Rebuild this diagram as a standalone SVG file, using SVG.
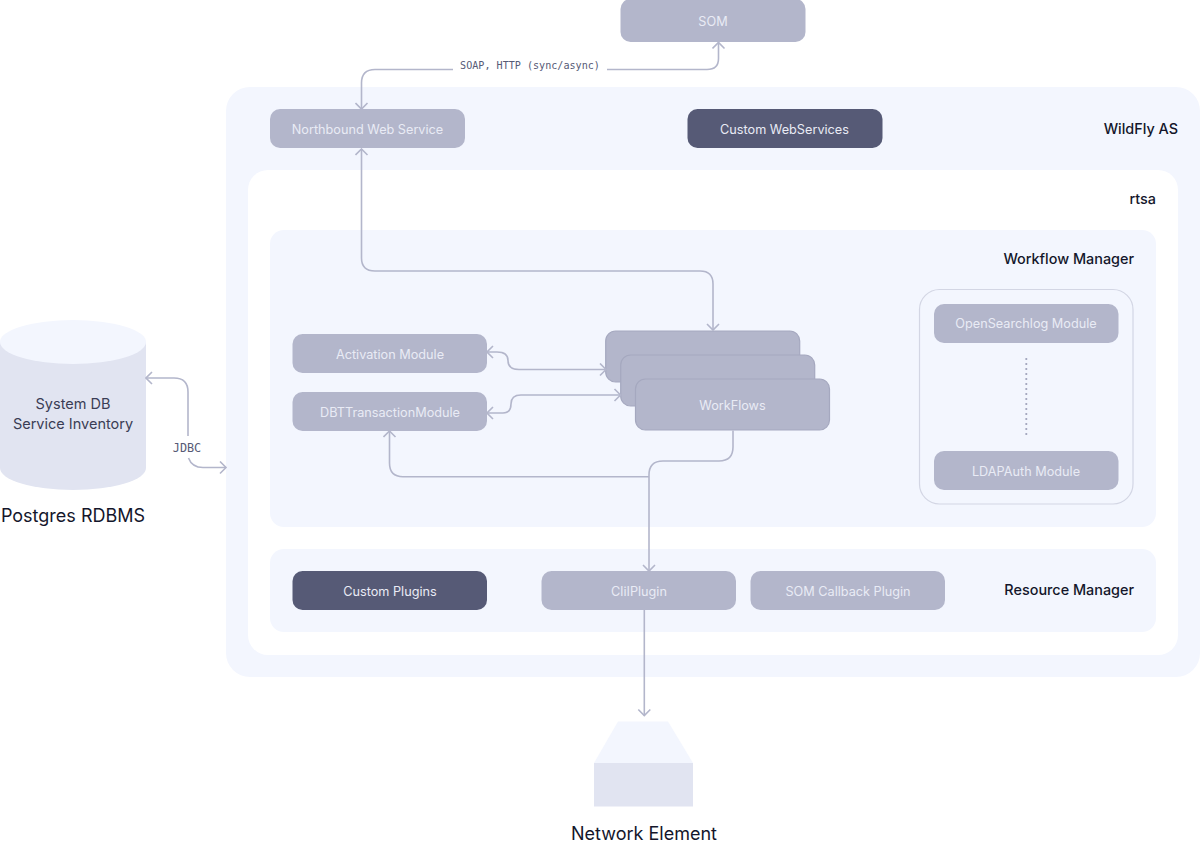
<svg xmlns="http://www.w3.org/2000/svg" width="1200" height="845" viewBox="0 0 1200 845">
<style>
text{font-family:"Inter","Noto Sans",sans-serif;text-anchor:middle}
.n{fill:#b3b6cb}
.d{fill:#565a76}
.s{stroke:#a5a8bf;stroke-width:1.2}
.t{font-size:12.7px;fill:#e9ebf5}
.h{font-size:14.4px;font-weight:500;fill:#14162b;text-anchor:end}
.c{fill:none;stroke:#b3b6cb;stroke-width:1.6}
.l{font-family:"DejaVu Sans Mono","Liberation Mono",monospace;font-size:10.1px;fill:#565a76}
.j{font-family:"DejaVu Sans Mono","Liberation Mono",monospace;font-size:11.8px;fill:#565a76}
.b{font-size:18px;fill:#14162b}
.m{font-size:14.5px;fill:#3a3d55}
</style>
<defs>
<marker id="a" markerUnits="userSpaceOnUse" viewBox="0 0 14 14" refX="12.5" refY="7" markerWidth="14" markerHeight="14" orient="auto-start-reverse"><path d="M6.5 1L12.5 7L6.5 13" fill="none" stroke="#b3b6cb" stroke-width="1.6"/></marker>
</defs>
<g id="wildfly"><rect x="226" y="87" width="974" height="590" rx="24" fill="#f3f6fe"/><text class="h" x="1178" y="134">WildFly AS</text></g>
<g id="rtsa"><rect x="248" y="170" width="930" height="485" rx="20" fill="#fff"/><text class="h" x="1156" y="204">rtsa</text></g>
<g id="workflow-manager"><rect x="270" y="230" width="886" height="297" rx="14" fill="#f3f6fe"/><text class="h" x="1134" y="264">Workflow Manager</text></g>
<g id="resource-manager"><rect x="270" y="549" width="886" height="83" rx="14" fill="#f3f6fe"/><text class="h" x="1134" y="595">Resource Manager</text></g>
<g id="module-box"><rect x="919.500" y="289.500" width="213.500" height="214.500" rx="20" fill="none" stroke="#d3d6e4" stroke-width="1.200"/><path d="M1026.300 358V436" stroke="#a5a8bf" stroke-width="1.800" stroke-dasharray="2 3"/></g>
<g id="som"><rect x="620.500" y="-1" width="185" height="43" rx="10" class="n"/><text class="t" x="713" y="26">SOM</text></g>
<g id="northbound"><rect x="270" y="109" width="195" height="39" rx="10" class="n"/><text class="t" x="367.500" y="134">Northbound Web Service</text></g>
<g id="custom-webservices"><rect x="687.500" y="109" width="195" height="39" rx="10" class="d"/><text class="t" x="784.500" y="134">Custom WebServices</text></g>
<g id="activation"><rect x="292.500" y="334" width="194.500" height="39" rx="10" class="n"/><text class="t" x="390" y="359">Activation Module</text></g>
<g id="dbt"><rect x="292.500" y="392" width="194.500" height="39" rx="10" class="n"/><text class="t" x="390" y="416.500">DBTTransactionModule</text></g>
<g id="workflows"><rect x="605.700" y="331" width="194" height="51" rx="10" class="n s"/><rect x="620.700" y="355" width="194" height="51" rx="10" class="n s"/><rect x="635.500" y="379" width="194" height="51" rx="10" class="n s"/><text class="t" x="732.500" y="409.500">WorkFlows</text></g>
<g id="opensearch"><rect x="934" y="304" width="184.500" height="39" rx="10" class="n"/><text class="t" x="1026" y="328">OpenSearchlog Module</text></g>
<g id="ldap"><rect x="934" y="451" width="184.500" height="39" rx="10" class="n"/><text class="t" x="1026" y="475.500">LDAPAuth Module</text></g>
<g id="custom-plugins"><rect x="292.500" y="571" width="194.500" height="39" rx="10" class="d"/><text class="t" x="390" y="595.500">Custom Plugins</text></g>
<g id="cliiplugin"><rect x="541.500" y="571" width="194.500" height="39" rx="10" class="n"/><text class="t" x="639" y="595.500">CliIPlugin</text></g>
<g id="som-callback"><rect x="750.500" y="571" width="194.500" height="39" rx="10" class="n"/><text class="t" x="848" y="595.500">SOM Callback Plugin</text></g>
<g id="database"><path d="M0 342V468A73 22 0 0 0 146 468V342Z" fill="#e1e4f1"/><ellipse cx="73" cy="342" rx="73" ry="22" fill="#f3f6fe"/><text class="m" x="73" y="409">System DB</text><text class="m" x="73" y="429">Service Inventory</text><text class="b" x="73" y="522">Postgres RDBMS</text></g>
<g id="network-element"><path d="M618 721.500H668L693 763H594Z" fill="#f3f6fe"/><rect x="594" y="763" width="99" height="43.500" fill="#e1e4f1"/><text class="b" x="644" y="839.500">Network Element</text></g>
<g id="connectors">
<path class="c" marker-end="url(#a)" d="M453 69.500H375Q361.500 69.500 361.500 83V109"/>
<path class="c" marker-end="url(#a)" d="M607 69.500H707Q718.500 69.500 718.500 58.500V42.500"/>
<path class="c" marker-start="url(#a)" marker-end="url(#a)" d="M361.500 149V258Q361.500 271 375 271H700Q713 271 713 284V330"/>
<path class="c" marker-start="url(#a)" marker-end="url(#a)" d="M487 352H497Q508 352 508 360.500Q508 369.500 519 369.500H606"/>
<path class="c" marker-start="url(#a)" marker-end="url(#a)" d="M487 413H503Q511 413 511 404Q511 395 521 395H620.500"/>
<path class="c" marker-end="url(#a)" d="M733 430.500V447Q733 461 719 461H663Q649 461 649 475V571"/>
<path class="c" marker-end="url(#a)" d="M649 476.700H403Q389.500 476.700 389.500 463V431"/>
<path class="c" marker-end="url(#a)" d="M644.300 610V715.500"/>
<path class="c" marker-end="url(#a)" d="M188 436V392Q188 378 174 378H146"/>
<path class="c" marker-end="url(#a)" d="M188.500 458Q192 467.500 203 467.500H226"/>
</g>
<text class="l" x="530" y="69">SOAP, HTTP (sync/async)</text>
<text class="j" x="187" y="451.500">JDBC</text>
</svg>
